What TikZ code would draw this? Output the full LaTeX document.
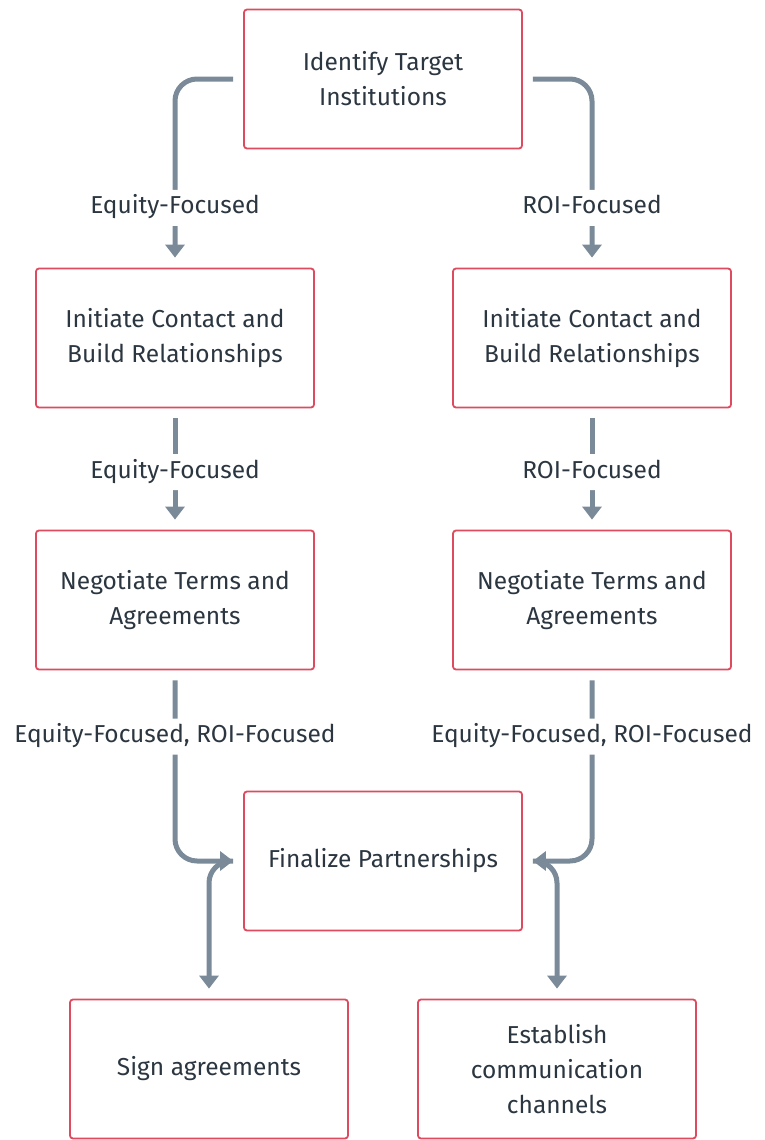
\documentclass[tikz,border=0pt]{standalone}
\usepackage{fontspec}
\setmainfont{Fira Sans}
\usetikzlibrary{arrows.meta}
\definecolor{boxred}{HTML}{DE4A5E}
\definecolor{txt}{HTML}{2B3640}
\definecolor{arr}{HTML}{7A8A99}
\begin{document}
\begin{tikzpicture}[x=1pt,y=-1pt,
  box/.style={draw=boxred, line width=1.8pt, rounded corners=3pt, minimum width=278pt, minimum height=139pt, align=center, text=txt, font=\fontsize{24.5}{35}\selectfont, inner sep=0pt},
  conn/.style={draw=arr, line width=5pt, -{Triangle[width=19pt,length=13pt]}, rounded corners=22pt, shorten >=10pt, shorten <=10pt},
  lbl/.style={fill=white, text=txt, font=\fontsize{24.5}{28}\selectfont, text height=16pt, text depth=4pt, inner xsep=2pt, inner ysep=8pt, yshift=-3pt}]
\useasboundingbox (0,0) rectangle (765,1140);
\node[box] (top) at (383,79) {Identify Target\\Institutions};
\node[box] (l1) at (175,338) {Initiate Contact and\\Build Relationships};
\node[box] (r1) at (592,338) {Initiate Contact and\\Build Relationships};
\node[box] (l2) at (175,600) {Negotiate Terms and\\Agreements};
\node[box] (r2) at (592,600) {Negotiate Terms and\\Agreements};
\node[box] (fin) at (383,861) {Finalize Partnerships};
\node[box] (sign) at (209,1069) {Sign agreements};
\node[box] (est) at (557,1069) {Establish\\communication\\channels};
\draw[conn] (top.west) -| node[lbl,pos=0.834]{Equity-Focused} (l1.north);
\draw[conn] (top.east) -| node[lbl,pos=0.834]{ROI-Focused} (r1.north);
\draw[conn] (l1) -- node[lbl]{Equity-Focused} (l2);
\draw[conn] (r1) -- node[lbl]{ROI-Focused} (r2);
\draw[conn] (fin.west) -| (sign.north);
\draw[conn] (fin.east) -| (est.north);
\draw[conn] (l2.south) |- node[lbl,pos=0.166]{Equity-Focused, ROI-Focused} (fin.west);
\draw[conn] (r2.south) |- node[lbl,pos=0.166]{Equity-Focused, ROI-Focused} (fin.east);
\end{tikzpicture}
\end{document}
